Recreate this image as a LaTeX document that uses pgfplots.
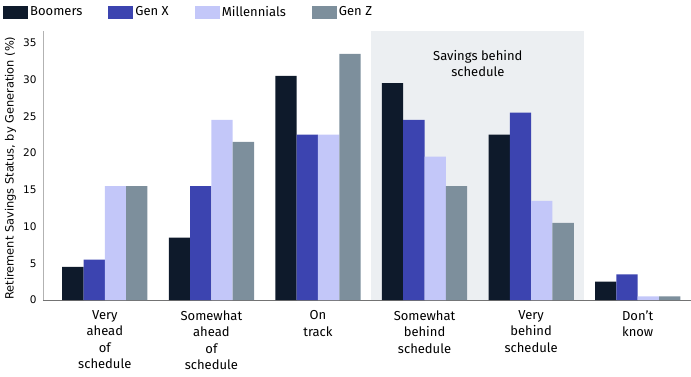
\documentclass[border=0pt]{standalone}
\usepackage{fontspec}
\setmainfont{Fira Sans}
\newfontfamily\dejavu{DejaVu Sans}
\usepackage{pgfplots}
\pgfplotsset{compat=1.18}
\definecolor{boom}{HTML}{0E1A2B}
\definecolor{genx}{HTML}{3C44B0}
\definecolor{mill}{HTML}{C3C7F9}
\definecolor{genz}{HTML}{7D8F9C}
\definecolor{shadecol}{HTML}{ECEFF2}
\begin{document}
\begin{tikzpicture}
\useasboundingbox (-43pt,-76pt) rectangle (648pt,300pt);
\begin{axis}[
  at={(0,0)}, anchor=south west,
  scale only axis, width=648pt, height=269pt,
  ymin=0, ymax=36.6, xmin=-0.58, xmax=5.5,
  ybar=0pt, bar width=0.2,
  axis x line=bottom, axis y line=left,
  x axis line style={-, draw=black!55},
  y axis line style={-, draw=black!30},
  ytick={0,5,...,35},
  xtick={0,...,5},
  xticklabels={{Very\\ahead\\of\\schedule},{Somewhat\\ahead\\of\\schedule},{On\\track},{Somewhat\\behind\\schedule},{Very\\behind\\schedule},{Don{\char"27}t\\know}},
  major tick length=0pt,
  tick style={draw=none},
  /pgf/number format/assume math mode=true,
  yticklabel style={font=\dejavu\fontsize{10.5}{12}\selectfont, xshift=-3pt},
  xticklabel style={align=center, font=\fontsize{13}{16.5}\selectfont, yshift=-7pt},
  ylabel={Retirement Savings Status, by Generation (\%)},
  ylabel style={at={(axis description cs:-0.05,0.49)}, anchor=center, font=\dejavu\fontsize{11.4}{12}\selectfont},
  legend style={at={(axis description cs:0,1)}, anchor=west, xshift=-40pt, yshift=19pt, draw=none, fill=none, legend columns=-1, font=\fontsize{13}{15}\selectfont, inner sep=0pt, /tikz/every even column/.append style={column sep=24pt}},
  legend image code/.code={\fill[#1] (0pt,-6.5pt) rectangle (25pt,6.5pt);},
]
\fill[shadecol] (axis cs:2.5,0) rectangle (axis cs:4.5,36.6);
\addplot[fill=boom, draw=none] coordinates {(0,4.5) (1,8.5) (2,30.5) (3,29.5) (4,22.5) (5,2.5)};
\addplot[fill=genx, draw=none] coordinates {(0,5.5) (1,15.5) (2,22.5) (3,24.5) (4,25.5) (5,3.5)};
\addplot[fill=mill, draw=none] coordinates {(0,15.5) (1,24.5) (2,22.5) (3,19.5) (4,13.5) (5,0.5)};
\addplot[fill=genz, draw=none] coordinates {(0,15.5) (1,21.5) (2,33.5) (3,15.5) (4,10.5) (5,0.5)};
\legend{Boomers, Gen X, Millennials, Gen Z}
\node[align=center, font=\fontsize{13}{16.5}\selectfont] at (axis cs:3.5,32.2) {Savings behind\\schedule};
\end{axis}
\end{tikzpicture}
\end{document}
